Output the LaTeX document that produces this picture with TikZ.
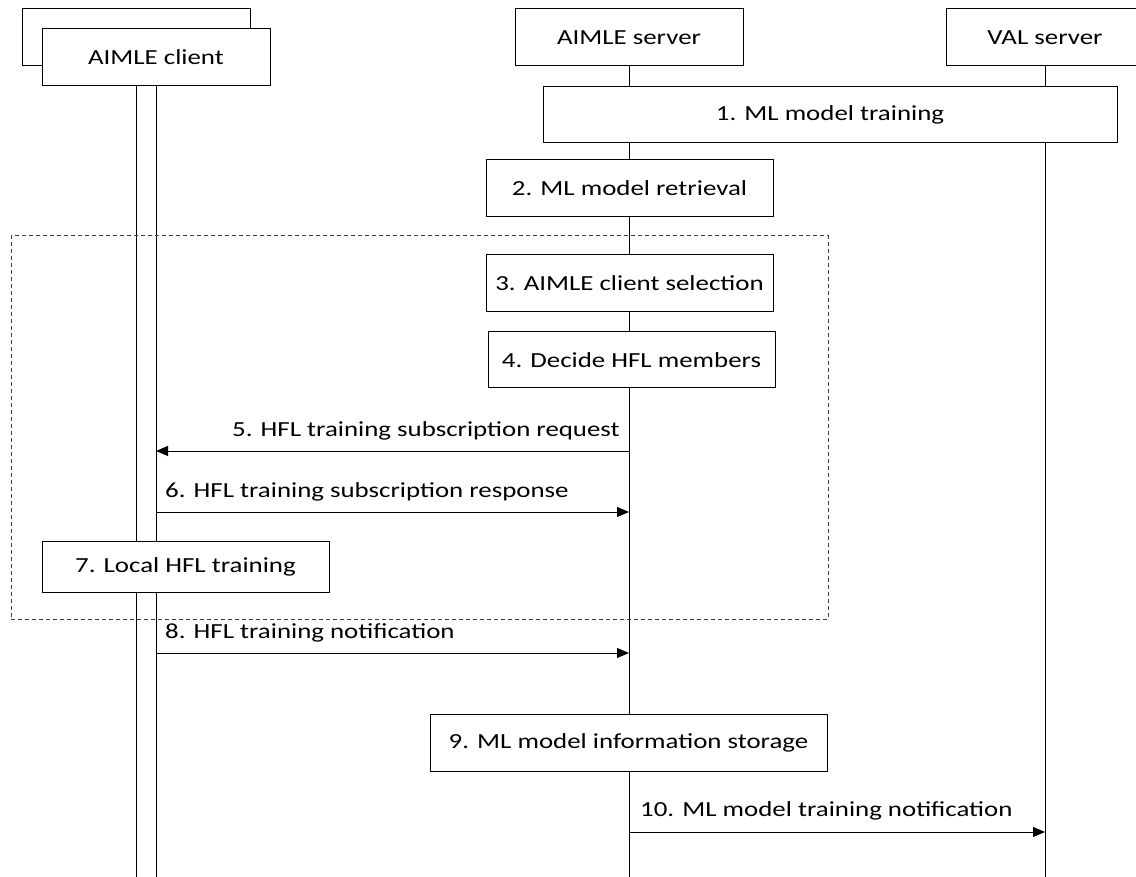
\documentclass[tikz,border=0pt]{standalone}
\usepackage{fontspec}
\setmainfont{Carlito}[FakeStretch=1.25]
\usetikzlibrary{arrows.meta,backgrounds}
\begin{document}
\begin{tikzpicture}[x=1pt,y=-1pt,
  box/.style={draw=black, line width=1pt, fill=white, inner sep=0pt, font=\fontsize{21.5}{24}\selectfont},
  life/.style={line width=1pt, black},
  msg/.style={line width=1pt, black, -{Triangle[length=12pt,width=10pt]}},
  lbl/.style={inner sep=0pt, font=\fontsize{21.5}{24}\selectfont},
  frame/.style={draw=black!75, dashed, dash pattern=on 4pt off 3pt, line width=1pt, inner sep=0pt}]
\useasboundingbox (0,0) rectangle (1136,877);

% dashed frame
\node[frame, minimum width=817pt, minimum height=383pt] (grp) at (419.5,427.5) {};

% participants
\node[box, minimum width=228pt, minimum height=57pt] (back) at (136,37.5) {};
\node[box, minimum width=228pt, minimum height=57pt] (client) at (156,57.5) {AIMLE client};
\node[box, minimum width=228pt, minimum height=57pt] (server) at (629,37.5) {AIMLE server};
\node[box, minimum width=198pt, minimum height=57pt] (val) at (1045,37.5) {VAL server};

% steps
\node[box, minimum width=574pt, minimum height=56pt] (s1) at (830,115) {1. ML model training};
\node[box, minimum width=287pt, minimum height=57pt] (s2) at (629.5,188.5) {2. ML model retrieval};
\node[box, minimum width=287pt, minimum height=57pt] (s3) at (629.5,283.5) {3. AIMLE client selection};
\node[box, minimum width=287pt, minimum height=56pt] (s4) at (631.5,360) {4. Decide HFL members};
\node[box, minimum width=287pt, minimum height=51pt] (s7) at (185.5,566.5) {7. Local HFL training};
\node[box, minimum width=397pt, minimum height=57pt] (s9) at (628.5,742.5) {9. ML model information storage};

% lifeline ends
\coordinate (endB) at (136,877);
\coordinate (endC) at (156,877);
\coordinate (endS) at (629,877);
\coordinate (endV) at (1045,877);

\begin{scope}[on background layer]
\draw[life] (back.south) -- (endB);
\draw[life] (client.south) -- (endC);
\draw[life] (server.south) -- (endS);
\draw[life] (val.south) -- (endV);
\end{scope}

% messages
\coordinate (m5s) at (629,451);  \coordinate (m5c) at (156,451);
\coordinate (m6c) at (156,512);  \coordinate (m6s) at (629,512);
\coordinate (m8c) at (156,653);  \coordinate (m8s) at (629,653);
\coordinate (m10s) at (629,832); \coordinate (m10v) at (1045,832);

\draw[msg] (m5s) -- (m5c);
\draw[msg] (m6c) -- (m6s);
\draw[msg] (m8c) -- (m8s);
\draw[msg] (m10s) -- (m10v);

\node[lbl, anchor=base east] (l5) at (620,436) {5. HFL training subscription request};
\node[lbl, anchor=base west] (l6) at (165,497) {6. HFL training subscription response};
\node[lbl, anchor=base west] (l8) at (165,638) {8. HFL training notification};
\node[lbl, anchor=base west] (l10) at (640,816) {10. ML model training notification};
\end{tikzpicture}
\end{document}
